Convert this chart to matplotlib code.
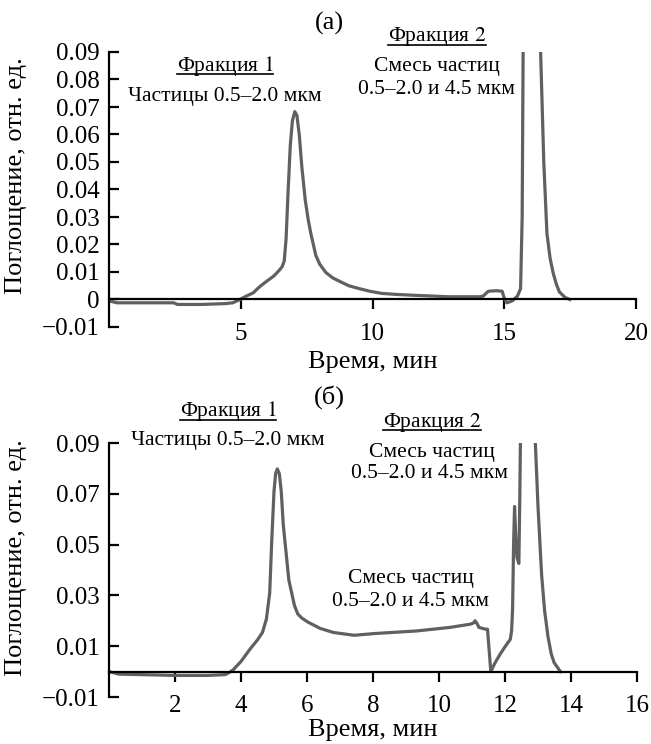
import matplotlib
matplotlib.use('Agg')
import matplotlib.pyplot as plt
from matplotlib.lines import Line2D
from matplotlib.ticker import FixedLocator, FixedFormatter

plt.rcParams['font.family'] = ['Liberation Serif', 'DejaVu Serif']
plt.rcParams['mathtext.fontset'] = 'stix'

# panel (a): elution curve, time in min / absorbance
time_a = [0.0, 0.3, 1.0, 2.0, 2.45, 2.6, 3.5, 4.4, 4.7, 4.97, 5.2, 5.47, 5.7, 5.95, 6.25,
          6.45, 6.57, 6.65, 6.72, 6.8, 6.88, 6.96, 7.05, 7.13, 7.22, 7.32, 7.45, 7.56,
          7.66, 7.85, 8.0, 8.23, 8.5, 8.84, 9.1, 9.48, 9.9, 10.36, 11.0, 11.65, 12.9,
          14.04, 14.2, 14.3, 14.4, 14.7, 14.92, 15.0, 15.1, 15.3, 15.5, 15.62, 15.68,
          15.74, 16.05, 16.3, 16.38, 16.5, 16.62, 16.74, 16.86, 16.98, 17.09, 17.3, 17.49]
absorb_a = [-0.0005, -0.0012, -0.0012, -0.0012, -0.0012, -0.0018, -0.0018, -0.0015, -0.0012,
            0.0, 0.0012, 0.0024, 0.0045, 0.0064, 0.0085, 0.0105, 0.0119, 0.014, 0.022,
            0.040, 0.056, 0.065, 0.0683, 0.067, 0.060, 0.048, 0.036, 0.029, 0.024, 0.016,
            0.0128, 0.0098, 0.0078, 0.0062, 0.005, 0.004, 0.003, 0.0022, 0.0018, 0.0015,
            0.001, 0.001, 0.0012, 0.0022, 0.003, 0.0032, 0.003, 0.0005, -0.0012, -0.0005,
            0.0012, 0.004, 0.03, 0.13, 0.30, 0.13, 0.09, 0.05, 0.024, 0.015, 0.0095,
            0.0055, 0.0028, 0.0008, 0.0]

# panel (б)
time_b = [0.0, 0.3, 1.0, 2.0, 3.0, 3.52, 3.65, 3.77, 4.0, 4.27, 4.5, 4.65, 4.77, 4.87,
          4.93, 5.0, 5.05, 5.1, 5.16, 5.22, 5.28, 5.38, 5.45, 5.53, 5.62, 5.72, 5.85,
          6.04, 6.4, 6.8, 7.43, 8.06, 9.32, 10.33, 10.96, 11.05, 11.09, 11.15, 11.21,
          11.41, 11.47, 11.57, 11.7, 11.85, 12.0, 12.16, 12.2, 12.23, 12.26, 12.29,
          12.32, 12.36, 12.42, 12.45, 12.5, 12.7, 12.92, 13.0, 13.11, 13.2, 13.3, 13.4,
          13.49, 13.68]
absorb_b = [0.0, -0.001, -0.0012, -0.0015, -0.0015, -0.0012, -0.0003, 0.0008, 0.004, 0.0088,
            0.0125, 0.0154, 0.0207, 0.031, 0.051, 0.071, 0.078, 0.0798, 0.078, 0.071,
            0.058, 0.045, 0.036, 0.0313, 0.026, 0.0227, 0.021, 0.0194, 0.017, 0.0154,
            0.0143, 0.015, 0.016, 0.0174, 0.0187, 0.0192, 0.020, 0.019, 0.0174, 0.0167,
            0.0167, 0.0, 0.0035, 0.0068, 0.0098, 0.0127, 0.016, 0.0247, 0.05, 0.065, 0.055,
            0.045, 0.0426, 0.07, 0.13, 0.30, 0.09, 0.065, 0.038, 0.024, 0.014, 0.007,
            0.0035, 0.0]

xticks_a = [5, 10, 15, 20]
yticks_a = [-0.01, 0, 0.01, 0.02, 0.03, 0.04, 0.05, 0.06, 0.07, 0.08, 0.09]
ylabels_a = ['\u22120.01', '0', '0.01', '0.02', '0.03', '0.04', '0.05', '0.06', '0.07', '0.08', '0.09']
xticks_b = [2, 4, 6, 8, 10, 12, 14, 16]
yticks_b = [-0.01, 0.01, 0.03, 0.05, 0.07, 0.09]
ylabels_b = ['\u22120.01', '0.01', '0.03', '0.05', '0.07', '0.09']

W, H = 651, 744
line_color = '#606060'
tick_fs = 18
label_fs = 19
note_fs = 15.5


def px(x, y):
    return x / W, 1 - y / H


def setup_axis(ax, xmax, xticks, yticks, ylabels):
    ax.set_xlim(0, xmax)
    ax.set_ylim(-0.01, 0.09)
    for s in ['top', 'right']:
        ax.spines[s].set_visible(False)
    ax.spines['bottom'].set_position(('data', 0))
    for s in ['left', 'bottom']:
        ax.spines[s].set_linewidth(1.6)
    ax.xaxis.set_major_locator(FixedLocator(xticks))
    ax.yaxis.set_major_locator(FixedLocator(yticks))
    ax.yaxis.set_major_formatter(FixedFormatter(ylabels))
    ax.tick_params(axis='y', direction='in', length=7, width=1.6, pad=7, labelsize=tick_fs)
    ax.tick_params(axis='x', direction='out', length=7, width=1.6, pad=10, labelsize=tick_fs)
    ax.set_xlabel('Время, мин', fontsize=label_fs)
    ax.set_ylabel('Поглощение, отн. ед.', fontsize=label_fs)
    ax.yaxis.set_label_coords(-0.156, 0.55)


fig = plt.figure(figsize=(W / 100, H / 100), dpi=100)
ax1 = fig.add_axes([109 / W, 1 - 327 / H, 527 / W, 275 / H])
ax2 = fig.add_axes([109 / W, 1 - 697 / H, 528 / W, 254 / H])

ax1.plot(time_a, absorb_a, color=line_color, lw=2.3, solid_joinstyle='round')
ax2.plot(time_b, absorb_b, color=line_color, lw=2.3, solid_joinstyle='round')
setup_axis(ax1, 20, xticks_a, yticks_a, ylabels_a)
setup_axis(ax2, 16, xticks_b, yticks_b, ylabels_b)
ax1.xaxis.set_label_coords(0.5, (327 - 362) / 275)
ax2.xaxis.set_label_coords(0.5, (697 - 730) / 254)
ax1.xaxis.label.set_va('center')
ax2.xaxis.label.set_va('center')

kw = dict(ha='center', va='center', fontsize=note_fs)
fig.text(*px(329, 23), '(a)', ha='center', va='center', fontsize=label_fs)
fig.text(*px(329, 397), '(б)', ha='center', va='center', fontsize=label_fs)

# headers to underline: (text, underline y in pixels)
headers = [
    (fig.text(*px(225, 66), 'Фракция $\\mathit{1}$', **kw), 74),
    (fig.text(*px(437, 37), 'Фракция $\\mathit{2}$', **kw), 45),
    (fig.text(*px(228, 411), 'Фракция $\\mathit{1}$', **kw), 420),
    (fig.text(*px(432, 422), 'Фракция $\\mathit{2}$', **kw), 430),
]
fig.text(*px(225, 97), 'Частицы 0.5\u20132.0 мкм', **kw)
fig.text(*px(437, 67), 'Смесь частиц', **kw)
fig.text(*px(436, 89), '0.5\u20132.0 и 4.5 мкм', **kw)
fig.text(*px(228, 441), 'Частицы 0.5\u20132.0 мкм', **kw)
fig.text(*px(432, 452), 'Смесь частиц', **kw)
fig.text(*px(430, 474), '0.5\u20132.0 и 4.5 мкм', **kw)
fig.text(*px(411, 579), 'Смесь частиц', **kw)
fig.text(*px(411, 602), '0.5\u20132.0 и 4.5 мкм', **kw)

fig.canvas.draw()
for t, uy in headers:
    bb = t.get_window_extent()
    fig.add_artist(Line2D([bb.x0 / W, bb.x1 / W], [1 - uy / H, 1 - uy / H],
                          transform=fig.transFigure, color='black', lw=1.2))

fig.savefig('out.png', dpi=100)
